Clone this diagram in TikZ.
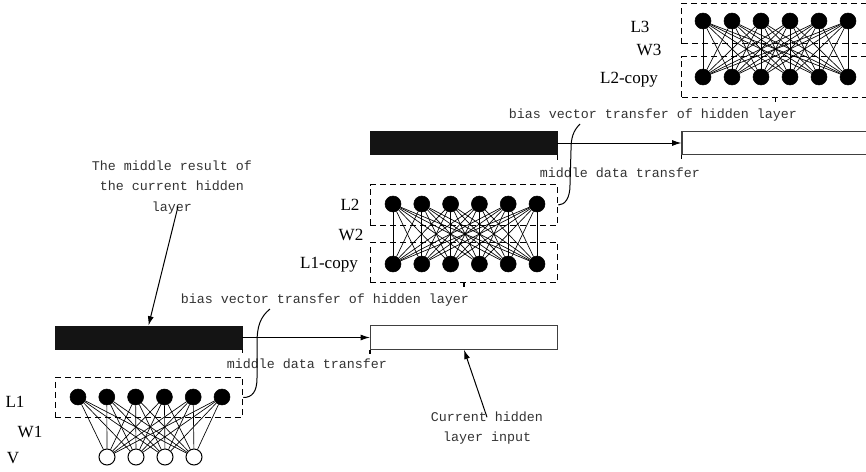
\documentclass[tikz,border=0pt]{standalone}
\usepackage{fontspec}
\setmainfont{Liberation Serif}
\setmonofont{Liberation Mono}
\usepackage{tikz}
\usetikzlibrary{arrows.meta, positioning, calc}
\tikzset{
    neuron/.style={circle, fill=black, draw=black, inner sep=0pt, minimum size=12pt},
    inunit/.style={circle, fill=white, draw=black, line width=0.75pt, inner sep=0pt, minimum size=12pt},
    layerbox/.style={draw, line width=0.9pt, dash pattern=on 4.5pt off 3pt, minimum width=140.5pt, minimum height=30.5pt, inner sep=0pt},
    resbar/.style={fill=black!92, draw=black!92, minimum width=140.25pt, minimum height=17.5pt, inner sep=0pt},
    inbox/.style={draw=black!75, line width=0.9pt, fill=white, minimum width=140.25pt, minimum height=17.5pt, inner sep=0pt},
    wire/.style={line width=0.5pt},
    lbl/.style={font=\fontsize{12.8}{15}\selectfont},
    note/.style={font=\fontsize{10}{15.4}\selectfont\ttfamily, text=black!80, inner sep=1pt},
    flow/.style={line width=0.75pt, -{Latex[length=7pt, width=4.5pt]}},
    tick/.style={line width=0.9pt},
}
\begin{document}
\begin{tikzpicture}[x=0.75pt, y=-0.75pt]
    \useasboundingbox (0,0) rectangle (866,471);
    \clip (0,0) rectangle (866,471);
    % L1 / W1 / V
    \node[layerbox] (box1) at (149,397.5) {};
    \foreach \i in {1,...,6} {
        \node[neuron] (one\i) at ({49.2+28.8*\i}, 397) {};
    }
    \foreach \j/\x in {1/107,2/136,3/165,4/194} {
        \node[inunit] (in\j) at (\x, 457) {};
    }
    \foreach \i in {1,...,6} {
        \foreach \j in {1,...,4} {
            \draw[wire] (one\i) -- (in\j);
        }
    }
    \node[lbl] (lone) at (15,402) {L1};
    \node[lbl] (wone) at (30,432) {W1};
    \node[lbl] (lvis) at (13,458) {V};
    % first hidden layer transfer
    \node[resbar] (bar1) at (148.5,337.5) {};
    \node[inbox] (inbox1) at (464,337.5) {};
    \draw[flow] (bar1) -- (inbox1);
    \draw[tick] (bar1.south east) -- +(0,4);
    \draw[tick] (inbox1.south west) -- +(0,4);
    \node[note, align=center] (res) at (172,187.5) {The middle result of\\the current hidden\\layer};
    \draw[flow] ([xshift=4.5pt, yshift=7pt]res.south) -- (bar1.north);
    \node[note] (bias1) at (325,300) {bias vector transfer of hidden layer};
    \node[note] (mdt1) at (307,364) {middle data transfer};
    \coordinate (cb1) at (270,309);
    \draw[line width=0.75pt] (cb1) .. controls (260,317) and (257,327) .. (257,343) -- (257,378)
        .. controls (257,392) and (252,397.5) .. (box1.east);
    \node[note, align=center] (inp) at (487,428) {Current hidden\\layer input};
    \draw[flow] ([yshift=-5.5pt]inp.north) -- (inbox1.south);
    % L2 / W2 / L1-copy
    \node[layerbox] (box2) at (464,205) {};
    \node[layerbox] (box1c) at (464,262.5) {};
    \foreach \i in {1,...,6} {
        \node[neuron] (two\i) at ({364.2+28.8*\i}, 204) {};
        \node[neuron] (onec\i) at ({364.2+28.8*\i}, 264) {};
    }
    \foreach \i in {1,...,6} {
        \foreach \j in {1,...,6} {
            \draw[wire] (two\i) -- (onec\j);
        }
    }
    \draw[tick] (box1c.south) -- +(0,4);
    \node[lbl] (ltwo) at (350,205) {L2};
    \node[lbl] (wtwo) at (351,235) {W2};
    \node[lbl] (lonec) at (329,265) {L1-copy};
    % second hidden layer transfer
    \node[resbar] (bar2) at (463.5,143) {};
    \node[inbox] (inbox2) at (775.5,143) {};
    \draw[flow] (bar2) -- (inbox2);
    \draw[tick] (bar2.south east) -- +(0,5);
    \draw[tick] (inbox2.south west) -- +(0,4);
    \node[note] (bias2) at (653,115) {bias vector transfer of hidden layer};
    \node[note] (mdt2) at (620,173) {middle data transfer};
    \coordinate (cb2) at (580,124);
    \draw[line width=0.75pt] (cb2) .. controls (573,131) and (571,138) .. (571,150) -- (570,185)
        .. controls (570,198) and (565,205) .. (box2.east);
    % L3 / W3 / L2-copy
    \node[layerbox] (box3) at (775.5,23.5) {};
    \node[layerbox] (box2c) at (775.5,77) {};
    \foreach \i in {1,...,6} {
        \node[neuron] (three\i) at ({674+29*\i}, 21) {};
        \node[neuron] (twoc\i) at ({674+29*\i}, 77) {};
    }
    \foreach \i in {1,...,6} {
        \foreach \j in {1,...,6} {
            \draw[wire] (three\i) -- (twoc\j);
        }
    }
    \draw[tick] (box2c.south) -- +(0,4);
    \node[lbl] (lthree) at (640,27) {L3};
    \node[lbl] (wthree) at (649,50) {W3};
    \node[lbl] (ltwoc) at (629,80) {L2-copy};
\end{tikzpicture}
\end{document}
